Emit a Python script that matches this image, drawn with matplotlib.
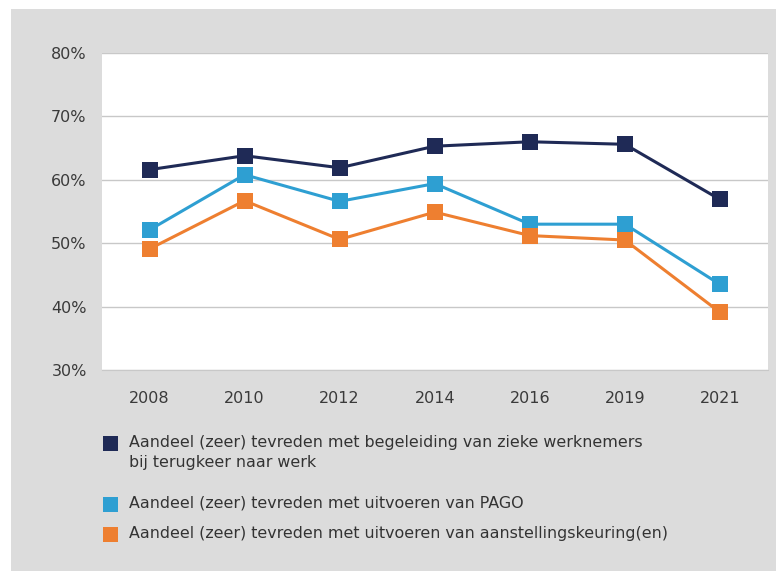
import matplotlib
matplotlib.use("Agg")
import matplotlib.pyplot as plt
from matplotlib.patches import Rectangle
from matplotlib.ticker import PercentFormatter

# data
years = ["2008", "2010", "2012", "2014", "2016", "2019", "2021"]
begeleiding = [61.6, 63.8, 61.9, 65.3, 66.0, 65.6, 56.9]
pago = [52.1, 60.8, 56.6, 59.4, 53.0, 53.0, 43.5]
aanstelling = [49.1, 56.7, 50.6, 54.9, 51.2, 50.5, 39.1]

labels = [
    "Aandeel (zeer) tevreden met begeleiding van zieke werknemers\nbij terugkeer naar werk",
    "Aandeel (zeer) tevreden met uitvoeren van PAGO",
    "Aandeel (zeer) tevreden met uitvoeren van aanstellingskeuring(en)",
]
colors = ["#1f2a56", "#2e9fd2", "#ee7f30"]
series = [begeleiding, pago, aanstelling]

W, H = 776, 571
fig = plt.figure(figsize=(W / 100, H / 100), dpi=100)
fig.patch.set_facecolor("white")
# grey panel behind everything
fig.add_artist(Rectangle((11 / W, 0), 1, 1 - 9 / H, transform=fig.transFigure,
                         facecolor="#dcdcdc", edgecolor="none", zorder=0))

ax = fig.add_axes([102 / W, 1 - 370 / H, (767.5 - 102) / W, (370 - 53) / H])
ax.set_facecolor("white")

x = list(range(len(years)))
for vals, col in zip(series, colors):
    ax.plot(x, vals, color=col, lw=2.2, marker="s", markersize=11.3,
            markeredgewidth=0, zorder=3)

ax.set_ylim(30, 80)
ax.set_yticks([30, 40, 50, 60, 70, 80])
ax.yaxis.set_major_formatter(PercentFormatter(decimals=0))
ax.set_xlim(-0.5, len(years) - 0.5)
ax.set_xticks(x)
ax.set_xticklabels(years)
ax.grid(axis="y", color="#c8c8c8", lw=1)
ax.set_axisbelow(True)
for s in ["top", "left", "right"]:
    ax.spines[s].set_visible(False)
ax.spines["bottom"].set_color("#c8c8c8")
ax.tick_params(axis="both", length=0, labelsize=11.5, colors="#3a3a3a")
ax.tick_params(axis="y", pad=11)
ax.tick_params(axis="x", pad=15)

# hand-built legend below the plot
rows = [443, 504, 534]
for lab, col, ytop in zip(labels, colors, rows):
    fig.add_artist(Rectangle((103 / W, 1 - (ytop + 7.5) / H), 15 / W, 15 / H,
                             transform=fig.transFigure, facecolor=col,
                             edgecolor="none"))
    fig.text(129 / W, 1 - (ytop - 8) / H, lab, ha="left", va="top",
             fontsize=11.4, color="#333333", linespacing=1.45)

fig.savefig("out.png", dpi=100, facecolor=fig.get_facecolor())
